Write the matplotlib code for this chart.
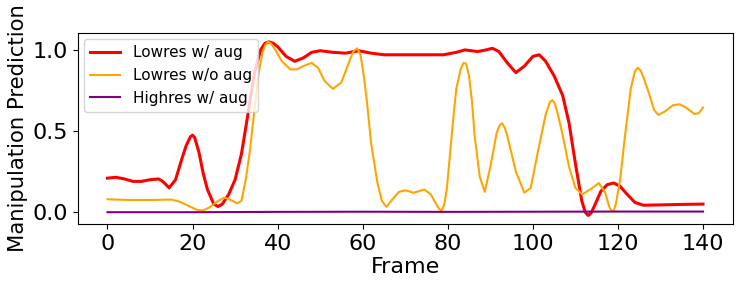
import matplotlib
matplotlib.use("Agg")
import matplotlib.pyplot as plt

# Lowres w/ aug
red_x = [0, 2, 4, 6, 8, 10, 12, 13, 14.5, 16, 17.5, 18.5, 19.5, 20, 20.5, 21.5, 22.5,
         23.5, 25, 26, 27, 28.5, 30, 31.5, 33, 34.5, 36, 37, 38, 39, 40, 42, 44, 46, 48,
         50, 53, 56, 59, 62, 65, 70, 75, 79, 82, 84, 87, 89, 90.5, 92, 94, 96, 98, 100,
         101.5, 103, 105, 107, 108.5, 110, 111.5, 112.3, 113, 113.7, 114.5, 116, 117.5,
         119, 120.5, 122, 124, 126, 130, 135, 140]
red_y = [0.21, 0.215, 0.205, 0.19, 0.19, 0.2, 0.205, 0.19, 0.15, 0.2, 0.33, 0.41, 0.465,
         0.475, 0.46, 0.37, 0.24, 0.14, 0.05, 0.035, 0.05, 0.11, 0.2, 0.36, 0.6, 0.85,
         1.0, 1.04, 1.05, 1.04, 1.02, 0.96, 0.93, 0.95, 0.985, 0.995, 0.985, 0.98, 0.995,
         0.98, 0.97, 0.97, 0.97, 0.97, 0.985, 1.0, 0.99, 1.0, 1.01, 0.99, 0.92, 0.86, 0.9,
         0.96, 0.97, 0.93, 0.84, 0.72, 0.55, 0.3, 0.07, 0.0, -0.02, -0.005, 0.04, 0.13,
         0.17, 0.18, 0.16, 0.115, 0.06, 0.043, 0.045, 0.048, 0.05]

# Lowres w/o aug
orange_x = [0, 5, 10, 15, 17, 19, 21, 22.5, 24, 26, 27.5, 29, 30.5, 31.5, 32.5, 33.5,
            34.5, 35.5, 36.5, 37.2, 37.8, 38.4, 39, 41, 43, 44.5, 46, 48, 49.5, 51, 53,
            55, 57, 57.8, 58.7, 59.5, 60.2, 61, 62, 63.4, 64.5, 65.6, 67, 68.5, 70, 72,
            74.5, 76, 77.5, 78, 78.6, 79.2, 79.8, 81.3, 82, 83, 83.7, 84.3, 85, 85.7, 86.3,
            87.5, 88.7, 90, 91.5, 92.2, 92.8, 93.4, 94, 96, 98, 99.5, 101, 103, 104, 104.6,
            105.2, 106, 107, 108.5, 110, 111.6, 113.5, 115.5, 117, 118, 118.5, 119, 119.5,
            120.5, 121.7, 123, 124, 124.7, 125.4, 126, 127.2, 128.5, 129.5, 131, 133,
            134.5, 136, 138, 139, 140]
orange_y = [0.08, 0.075, 0.075, 0.078, 0.065, 0.04, 0.015, 0.01, 0.03, 0.07, 0.09, 0.075,
            0.055, 0.07, 0.2, 0.38, 0.62, 0.85, 0.99, 1.035, 1.05, 1.04, 1.02, 0.93, 0.88,
            0.88, 0.9, 0.92, 0.89, 0.81, 0.76, 0.8, 0.94, 0.99, 1.01, 0.97, 0.85, 0.68,
            0.42, 0.19, 0.07, 0.033, 0.08, 0.125, 0.135, 0.12, 0.14, 0.11, 0.04, 0.02,
            0.01, 0.05, 0.15, 0.58, 0.76, 0.88, 0.92, 0.915, 0.84, 0.68, 0.475, 0.22,
            0.125, 0.28, 0.49, 0.535, 0.548, 0.52, 0.47, 0.25, 0.12, 0.15, 0.35, 0.6,
            0.68, 0.69, 0.67, 0.59, 0.475, 0.28, 0.15, 0.11, 0.14, 0.18, 0.12, 0.03, 0.01,
            0.005, 0.05, 0.2, 0.48, 0.76, 0.87, 0.89, 0.87, 0.83, 0.74, 0.63, 0.6, 0.62,
            0.66, 0.665, 0.645, 0.605, 0.61, 0.645]

# Highres w/ aug
purple_x = [0, 20, 40, 60, 80, 100, 120, 140]
purple_y = [0.0, 0.0, 0.002, 0.003, 0.002, 0.003, 0.004, 0.004]

fig = plt.figure(figsize=(7.47, 2.83), dpi=100)
ax = fig.add_axes([0.104, 0.208, 0.877, 0.675])
ax.plot(red_x, red_y, color="red", lw=2.2, label="Lowres w/ aug")
ax.plot(orange_x, orange_y, color="orange", lw=1.5, label="Lowres w/o aug")
ax.plot(purple_x, purple_y, color="purple", lw=1.5, label="Highres w/ aug")

ax.set_xticks(range(0, 141, 20))
ax.set_yticks([0.0, 0.5, 1.0])
ax.tick_params(labelsize=16)
ax.set_xlabel("Frame", fontsize=16, labelpad=2)
ax.set_ylabel("Manipulation Prediction", fontsize=15.2, labelpad=3)
ax.legend(loc="upper left", fontsize=11, handlelength=2, borderaxespad=0.4)

fig.savefig("out.png", dpi=100)
